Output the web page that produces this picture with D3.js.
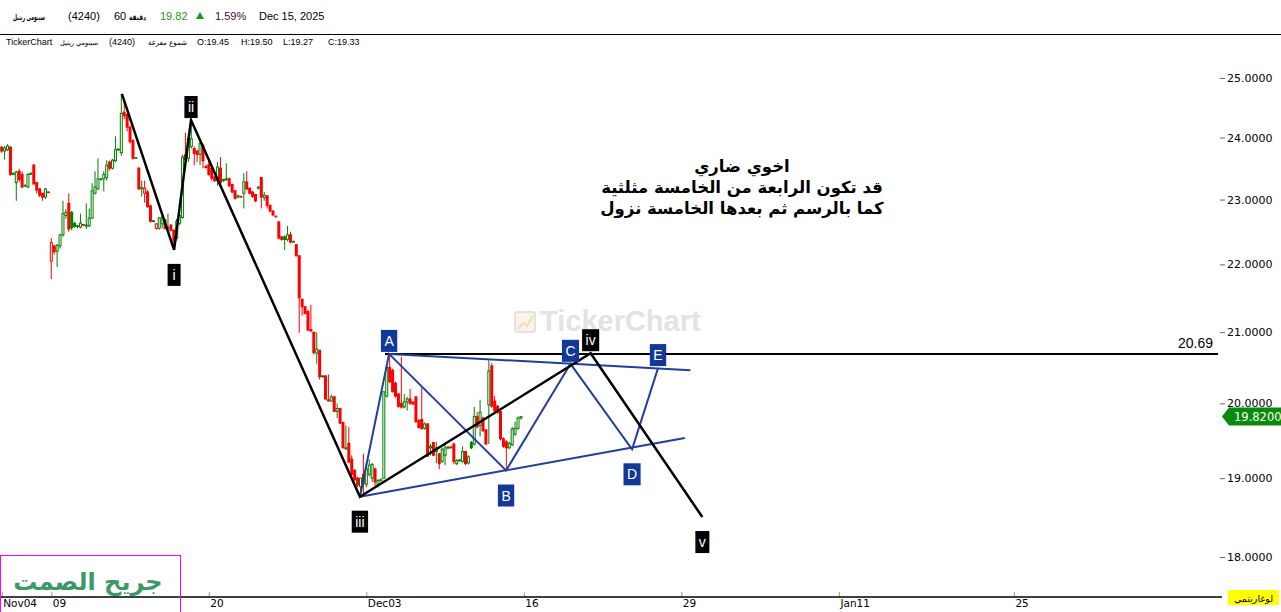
<!DOCTYPE html>
<html>
<head>
<meta charset="utf-8">
<script src="https://cdn.jsdelivr.net/npm/d3@7"></script>
<style>
html,body{margin:0;padding:0;background:#fff;}
svg{display:block;}
</style>
</head>
<body>
<svg id="chart" width="1281" height="612"></svg>
<script>
// ---------------- DATA ----------------
const openP = [23.84,23.78,23.80,23.84,23.40,23.27,23.45,23.40,23.22,23.20,23.40,23.55,23.27,23.17,23.10,23.04,23.12,
22.05,22.28,22.20,22.28,22.45,22.75,22.94,22.80,22.63,22.59,22.57,22.61,22.59,22.59,22.71,23.10,23.17,23.32,23.33,23.35,23.60,23.50,23.62,23.80,
23.75,24.42,24.38,24.17,23.95,23.67,23.50,23.17,23.10,23.12,22.90,22.66,22.55,22.55,22.62,22.68,22.55,22.60,22.52,22.40,22.63,22.72,23.72,23.66,23.85,
23.82,23.78,23.72,23.87,23.53,23.56,23.50,23.36,23.30,23.50,23.30,23.32,23.33,23.24,23.14,23.04,23.05,23.10,23.28,23.18,23.12,23.08,23.18,23.35,
23.03,23.06,22.91,22.82,22.74,22.65,22.42,22.42,22.38,22.45,22.35,22.30,22.13,21.48,21.37,21.30,21.04,21.00,20.70,20.74,20.37,20.38,20.04,20.03,
20.09,19.89,19.93,19.74,19.39,19.46,19.25,19.10,19.00,18.89,19.05,18.92,19.05,19.00,19.12,18.92,18.97,19.00,20.10,20.50,20.46,20.28,20.13,20.00,
19.95,20.02,20.06,20.02,20.09,19.77,19.78,19.66,19.72,19.40,19.47,19.35,19.32,19.22,19.30,19.40,19.41,19.45,19.19,19.23,19.22,19.35,19.20,19.47,
19.45,19.82,19.70,19.80,19.64,19.98,20.52,20.03,19.96,19.89,19.52,19.48,19.40,19.44,19.58,19.66,19.80];
const highP = [23.86,23.86,23.89,23.86,23.43,23.46,23.49,23.45,23.25,23.42,23.43,23.57,23.28,23.18,23.10,23.18,23.13,
22.40,22.30,22.31,22.46,22.98,22.85,23.10,22.82,22.65,22.60,22.78,22.62,22.94,22.86,23.26,23.45,23.66,23.34,23.45,23.63,23.62,23.65,24.02,23.82,
24.73,24.60,24.40,24.20,23.97,23.68,23.52,23.30,23.30,23.15,22.92,22.68,22.63,22.73,22.80,22.70,22.78,22.62,22.54,22.70,22.82,23.72,24.08,24.05,24.29,
23.85,23.80,23.98,23.90,23.55,23.62,23.52,23.38,23.60,23.68,23.33,23.58,23.35,23.25,23.15,23.08,23.06,23.42,23.45,23.19,23.13,23.09,23.21,23.36,
23.12,23.07,22.92,22.83,22.75,22.66,22.43,22.44,22.59,22.50,22.36,22.31,22.14,21.49,21.38,21.33,21.40,21.01,21.00,20.75,20.39,20.39,20.40,20.12,
20.10,20.00,19.94,19.75,19.70,19.68,19.30,19.12,19.02,18.98,19.32,19.20,19.25,19.20,19.14,18.99,19.00,20.17,20.52,20.68,20.48,20.30,20.14,20.65,
20.13,20.09,20.20,20.03,20.10,19.78,20.22,19.74,19.73,19.45,19.48,19.48,19.33,19.40,19.47,19.42,19.42,19.47,19.25,19.25,19.42,19.36,19.30,19.49,
19.95,19.88,20.05,19.82,19.65,20.60,20.56,20.10,19.98,19.90,19.54,19.50,19.48,19.68,19.75,19.82,19.83];
const lowP = [23.75,23.64,23.78,23.38,23.39,22.98,23.28,23.18,23.20,23.18,23.39,23.23,23.10,23.04,22.98,23.01,23.10,
21.78,22.15,21.96,22.24,22.42,22.70,22.50,22.52,22.56,22.55,22.55,22.59,22.54,22.57,22.70,23.08,23.15,23.31,23.13,23.30,23.46,23.48,23.60,23.79,
23.70,24.30,24.10,23.90,23.64,23.65,23.15,23.05,22.95,22.87,22.64,22.65,22.53,22.53,22.55,22.53,22.54,22.50,22.22,22.36,22.60,22.70,23.60,23.60,23.82,
23.55,23.60,23.55,23.50,23.50,23.38,23.30,23.28,23.22,23.20,23.28,23.30,23.20,23.10,23.00,23.02,23.03,22.86,23.15,23.08,23.03,22.96,23.16,22.86,
22.98,22.86,22.80,22.74,22.72,22.38,22.36,22.22,22.35,22.32,22.33,22.12,20.99,21.24,21.26,21.02,21.00,20.68,20.55,20.33,20.36,20.05,20.02,20.02,
19.88,19.80,19.72,19.39,19.37,19.20,19.00,18.96,18.88,18.76,18.80,18.88,19.02,18.95,18.90,18.88,18.96,18.99,20.08,20.28,20.15,20.08,19.94,19.93,
19.93,19.90,19.98,19.98,19.74,19.66,19.64,19.64,19.28,19.30,19.29,19.20,19.12,19.20,19.17,19.38,19.39,19.18,19.17,19.22,19.20,19.17,19.18,19.38,
19.43,19.66,19.55,19.61,19.44,19.45,19.94,19.88,19.86,19.50,19.40,19.09,19.38,19.42,19.56,19.64,19.78];
const closeP = [23.78,23.83,23.86,23.40,23.42,23.44,23.32,23.20,23.22,23.40,23.42,23.25,23.15,23.07,23.04,23.17,23.11,
22.33,22.19,22.29,22.45,22.78,22.80,22.54,22.56,22.58,22.58,22.63,22.60,22.60,22.71,23.14,23.20,23.33,23.33,23.40,23.55,23.50,23.63,23.80,23.81,
24.40,24.36,24.17,23.93,23.66,23.66,23.17,23.19,23.18,22.89,22.66,22.67,22.62,22.71,22.72,22.55,22.57,22.52,22.36,22.66,22.75,23.68,23.64,23.98,23.98,
23.74,23.72,23.90,23.62,23.51,23.40,23.34,23.30,23.52,23.27,23.32,23.33,23.22,23.12,23.02,23.06,23.04,23.28,23.17,23.10,23.05,22.98,23.20,23.04,
23.07,22.91,22.82,22.76,22.73,22.40,22.38,22.38,22.45,22.34,22.34,22.13,21.50,21.37,21.27,21.03,21.02,20.71,20.76,20.37,20.38,20.06,20.05,20.09,
19.89,19.93,19.73,19.40,19.40,19.21,19.05,18.98,18.91,19.00,18.93,19.12,19.17,19.18,18.95,18.97,18.98,20.16,20.50,20.30,20.16,20.10,19.96,19.95,
20.02,20.06,20.00,19.99,19.75,19.67,19.66,19.72,19.29,19.42,19.30,19.40,19.19,19.38,19.40,19.41,19.40,19.22,19.23,19.24,19.35,19.19,19.28,19.40,
19.82,19.68,19.88,19.63,19.45,20.45,19.96,19.90,19.88,19.52,19.42,19.40,19.46,19.65,19.66,19.80,19.82];

// x-axis (candle index of first bar of each labelled day)
const tickIdx = [0, 17, 71, 125, 179, 233, 287, 347];
const tickLabels = ["Nov04", "09", "20", "Dec03", "16", "29", "Jan11", "25"];
const priceTicks = [18, 19, 20, 21, 22, 23, 24, 25];

// Elliott wave pivots (bar index, price)
const waveIdx = [41.2, 59.1, 64.9, 122.8, 201.9, 240.2];
const wavePx = [24.73, 22.22, 24.29, 18.76, 20.70, 18.50];
const waveLabels = ["", "i", "ii", "iii", "iv", "v"];
const waveLabelPos = ["", "below", "above", "below", "above", "below"];

// triangle pivots
const triIdx = [122.8, 132.8, 172.9, 195.0, 216.1, 225.0];
const triPx = [18.76, 20.69, 19.10, 20.55, 19.38, 20.49];
const triLabels = ["", "A", "B", "C", "D", "E"];
const triLabelPos = ["", "above", "below", "above", "below", "above"];
const upperTrendIdx = [132.8, 236.1];
const upperTrendPx = [20.69, 20.46];
const lowerTrendIdx = [122.8, 234.2];
const lowerTrendPx = [18.76, 19.53];

const levelPrice = 20.69;
const levelStartIdx = 131.4;
const lastPrice = 19.82;

const noteLines = ["اخوي ضاري", "قد تكون الرابعة من الخامسة مثلثية", "كما بالرسم ثم بعدها الخامسة نزول"];

// ---------------- SCALES ----------------
const svg = d3.select("#chart");
const plotRight = 1218;
const x = d3.scaleLinear().domain([0, 417]).range([1.7, 1.7 + 417 * 2.917]);
const y = d3.scaleLog().domain([18, 25]).range([557, 78]);

const GREEN = "#008000", RED = "#ff0000";
const BLUE_LINE = "#1f3f9c", BLUE_BOX = "#12389a";
const SANS = "'Liberation Sans', Arial, sans-serif";
const DV = "'DejaVu Sans', sans-serif";

// ---------------- HEADER ----------------
const hdr = svg.append("g").attr("font-family", SANS);
function fitText(g, xx, yy, size, w, txt, bold, fill) {
  const t = g.append("text").attr("x", xx).attr("y", yy).attr("font-size", size).attr("font-family", DV)
    .attr("fill", fill || "#000").text(txt);
  if (bold) t.attr("font-weight", "bold");
  t.attr("textLength", w).attr("lengthAdjust", "spacingAndGlyphs");
  return t;
}
fitText(hdr, 13, 20, 8, 32, "سينومي ريتيل", true);
hdr.append("text").attr("x", 68).attr("y", 20).attr("font-size", 11).text("(4240)");
hdr.append("text").attr("x", 114).attr("y", 20).attr("font-size", 11).text("60");
fitText(hdr, 129, 20, 8, 17, "دقيقة", true);
hdr.append("text").attr("x", 160).attr("y", 20).attr("font-size", 11).attr("fill", "#1a9a1a").text("19.82");
hdr.append("path").attr("d", "M196,19 L200,12 L204,19 Z").attr("fill", "#1a9a1a");
hdr.append("text").attr("x", 215).attr("y", 20).attr("font-size", 11).attr("fill", "#3a1040").text("1.59%");
hdr.append("text").attr("x", 259).attr("y", 20).attr("font-size", 11).text("Dec 15, 2025");
svg.append("line").attr("x1", 0).attr("x2", 1281).attr("y1", 34.5).attr("y2", 34.5).attr("stroke", "#000").attr("stroke-width", 1);
const h2 = svg.append("g").attr("font-family", SANS).attr("font-size", 9);
h2.append("text").attr("x", 6).attr("y", 45).text("TickerChart");
fitText(h2, 60, 45, 7, 38, "سينومي  ريتيل", false);
h2.append("text").attr("x", 109).attr("y", 45).text("(4240)");
fitText(h2, 148, 45, 7.5, 39, "شموع مفرغة", false);
h2.append("text").attr("x", 197).attr("y", 45).text("O:19.45");
h2.append("text").attr("x", 241).attr("y", 45).text("H:19.50");
h2.append("text").attr("x", 283).attr("y", 45).text("L:19.27");
h2.append("text").attr("x", 328).attr("y", 45).text("C:19.33");

// ---------------- WATERMARK ----------------
const wm = svg.append("g");
wm.append("rect").attr("x", 515).attr("y", 312).attr("width", 20).attr("height", 20).attr("rx", 2)
  .attr("fill", "#fbf3e8").attr("stroke", "#e2e2e2").attr("stroke-width", 2);
wm.append("path").attr("d", "M518,329 L523,323 L527,326 L533,316").attr("fill", "none").attr("stroke", "#f1dcc0").attr("stroke-width", 2);
wm.append("text").attr("x", 540).attr("y", 331).attr("font-family", SANS)
  .attr("font-weight", "bold").attr("font-size", 29).attr("fill", "#e3e3e3").text("TickerChart");

// ---------------- CANDLES ----------------
const bars = d3.range(closeP.length).map(i => ({
  i, o: openP[i], h: highP[i], l: lowP[i], c: closeP[i], pc: i > 0 ? closeP[i - 1] : openP[i]
}));
const cg = svg.append("g");
bars.forEach(b => {
  const col = b.c >= b.pc ? GREEN : RED;
  const cx = x(b.i);
  cg.append("line").attr("x1", cx).attr("x2", cx).attr("y1", y(b.h)).attr("y2", y(b.l))
    .attr("stroke", col).attr("stroke-width", 1);
  const top = y(Math.max(b.o, b.c)), bot = y(Math.min(b.o, b.c));
  if (b.c > b.o) {
    cg.append("rect").attr("x", cx - 1).attr("y", top).attr("width", 2).attr("height", Math.max(bot - top, 1))
      .attr("fill", "#fff").attr("stroke", col).attr("stroke-width", 1);
  } else {
    cg.append("rect").attr("x", cx - 1.5).attr("y", top - 0.5).attr("width", 3).attr("height", Math.max(bot - top + 1, 1.5))
      .attr("fill", col);
  }
});

// ---------------- LEVEL LINE ----------------
svg.append("line").attr("x1", x(levelStartIdx)).attr("x2", plotRight).attr("y1", y(levelPrice)).attr("y2", y(levelPrice))
  .attr("stroke", "#000").attr("stroke-width", 2);
svg.append("text").attr("x", 1213).attr("y", y(levelPrice) - 6).attr("text-anchor", "end")
  .attr("font-family", SANS).attr("font-size", 14).text(levelPrice.toFixed(2));

// ---------------- TRIANGLE ----------------
const lineGen = d3.line().x(d => x(d[0])).y(d => y(d[1]));
const tg = svg.append("g").attr("fill", "none").attr("stroke", BLUE_LINE).attr("stroke-width", 2);
tg.append("path").attr("d", lineGen(triIdx.map((d, k) => [d, triPx[k]])));
tg.append("path").attr("d", lineGen(upperTrendIdx.map((d, k) => [d, upperTrendPx[k]])));
tg.append("path").attr("d", lineGen(lowerTrendIdx.map((d, k) => [d, lowerTrendPx[k]])));

// ---------------- WAVES ----------------
svg.append("path").attr("d", lineGen(waveIdx.map((d, k) => [d, wavePx[k]])))
  .attr("fill", "none").attr("stroke", "#000").attr("stroke-width", 2.5).attr("stroke-linejoin", "miter");

// ---------------- LABEL BOXES ----------------
function labelBox(idx, px, txt, pos, fill) {
  if (!txt) return;
  const cx = x(idx), py = y(px);
  const g = svg.append("g");
  const t = g.append("text").attr("x", cx).attr("text-anchor", "middle")
    .attr("font-family", SANS).attr("font-size", 14).attr("fill", "#fff").text(txt);
  const w = Math.max(t.node().getComputedTextLength() + 7, 13);
  const h = 22;
  const top = pos === "above" ? py - 2 - h : py + 14;
  g.insert("rect", "text").attr("x", cx - w / 2).attr("y", top).attr("width", w).attr("height", h).attr("fill", fill);
  t.attr("y", top + 16);
}
waveIdx.forEach((d, k) => labelBox(d, wavePx[k], waveLabels[k], waveLabelPos[k], "#000"));
triIdx.forEach((d, k) => labelBox(d, triPx[k], triLabels[k], triLabelPos[k], BLUE_BOX));

// ---------------- NOTE ----------------
const note = svg.append("g").attr("font-family", DV).attr("font-weight", "bold")
  .attr("font-size", 16.5).attr("text-anchor", "middle");
noteLines.forEach((s, k) => note.append("text").attr("x", 742).attr("y", 172 + k * 21).attr("direction", "rtl")
  .attr("text-anchor", "middle").text(s));

// ---------------- Y AXIS ----------------
const ya = svg.append("g").attr("transform", `translate(1220,0)`)
  .call(d3.axisRight(y).tickValues(priceTicks).tickFormat(d3.format(".4f")).tickSize(5).tickPadding(2));
ya.select(".domain").remove();
ya.selectAll("text").attr("font-family", DV).attr("font-size", 11).attr("fill", "#000");
ya.selectAll("line").attr("stroke", "#666");

// last price tag
const ly = y(lastPrice);
svg.append("path").attr("d", `M1222,${ly} L1229,${ly - 9} L1281,${ly - 9} L1281,${ly + 9} L1229,${ly + 9} Z`).attr("fill", "#0a8a0a");
svg.append("text").attr("x", 1234).attr("y", ly + 4.5).attr("font-family", DV)
  .attr("font-size", 11.5).attr("fill", "#fff").text(lastPrice.toFixed(4));

// ---------------- X AXIS ----------------
const xa = svg.append("g").attr("transform", "translate(0,597)")
  .call(d3.axisBottom(x).tickValues(tickIdx).tickFormat((d, k) => tickLabels[k]).tickSizeInner(-5).tickSizeOuter(0).tickPadding(3));
xa.select(".domain").remove();
xa.selectAll("line").attr("stroke", "#999");
xa.selectAll("text").attr("text-anchor", "start").attr("dx", 1).attr("font-family", DV)
  .attr("font-size", 10.5).attr("fill", "#000");
svg.append("line").attr("x1", 0).attr("x2", 1222).attr("y1", 597).attr("y2", 597).attr("stroke", "#000").attr("stroke-width", 1.5);

// log label
svg.append("rect").attr("x", 1228).attr("y", 590).attr("width", 51).attr("height", 15).attr("fill", "#ffff00");
svg.append("text").attr("x", 1253.5).attr("y", 601.5).attr("text-anchor", "middle").attr("font-family", DV)
  .attr("font-size", 9.5).attr("fill", "#000").text("لوغاريتمي");

// signature box
svg.append("rect").attr("x", 0.5).attr("y", 555.5).attr("width", 180).attr("height", 60).attr("fill", "none").attr("stroke", "#ff00ff").attr("stroke-width", 1);
svg.append("text").attr("x", 88).attr("y", 590).attr("text-anchor", "middle").attr("direction", "rtl")
  .attr("font-family", DV).attr("font-weight", "bold").attr("font-size", 24).attr("fill", "#3a9a66").text("جريح الصمت");
</script>
</body>
</html>
